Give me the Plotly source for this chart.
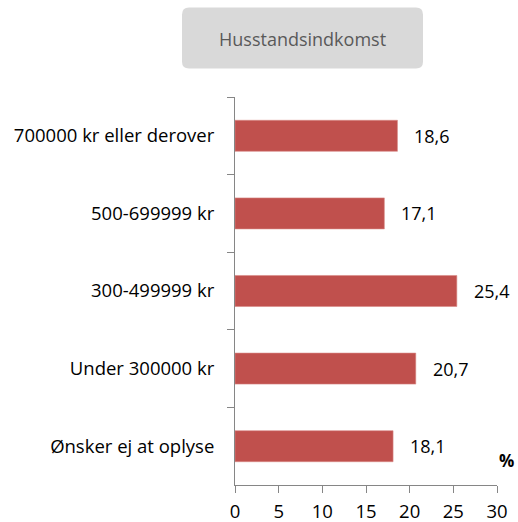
import plotly.graph_objects as go

# data, top to bottom as shown in the chart
categories = [
    "700000 kr eller derover",
    "500-699999 kr",
    "300-499999 kr",
    "Under 300000 kr",
    "Ønsker ej at oplyse",
]
values = [18.6, 17.1, 25.4, 20.7, 18.1]
x_ticks = [0, 5, 10, 15, 20, 25, 30]
title_text = "Husstandsindkomst"

BAR = "#C0504D"
AXIS = "#868686"
FONT = "Open Sans, sans-serif"

W, H = 518, 522
M = dict(l=235, r=21, t=97, b=37)
PW = W - M["l"] - M["r"]
PH = H - M["t"] - M["b"]


def px(x):
    # page pixel -> paper x
    return (x - M["l"]) / PW


def py(y):
    # page pixel -> paper y
    return (H - M["b"] - y) / PH


def rounded_rect(x0, y0, x1, y1, r):
    X0, X1 = px(x0), px(x1)
    Y0, Y1 = py(y0), py(y1)  # Y0 is top
    rx, ry = r / PW, r / PH
    return (
        f"M{X0 + rx},{Y0} L{X1 - rx},{Y0} Q{X1},{Y0} {X1},{Y0 - ry} "
        f"L{X1},{Y1 + ry} Q{X1},{Y1} {X1 - rx},{Y1} "
        f"L{X0 + rx},{Y1} Q{X0},{Y1} {X0},{Y1 + ry} "
        f"L{X0},{Y0 - ry} Q{X0},{Y0} {X0 + rx},{Y0} Z"
    )


fig = go.Figure()
fig.add_trace(go.Bar(
    x=values,
    y=categories,
    orientation="h",
    marker=dict(color=BAR, line=dict(color="#D88A87", width=0.6)),
    hoverinfo="x+y",
))

# value labels to the right of each bar
for v, c in zip(values, categories):
    fig.add_annotation(
        x=v, y=c, xref="x", yref="y",
        text=f"{v:.1f}".replace(".", ","),
        showarrow=False, xanchor="left", yanchor="middle", xshift=15,
        font=dict(size=18, color="#000000", family=FONT),
    )

fig.add_shape(
    type="path", xref="paper", yref="paper",
    path=rounded_rect(182, 7.5, 423, 68.5, 7),
    fillcolor="#D9D9D9", line=dict(width=0), layer="above",
)
fig.add_annotation(
    x=px(302.5), y=py(39), xref="paper", yref="paper",
    xanchor="center", yanchor="middle",
    text=title_text, showarrow=False,
    font=dict(size=18, color="#595959", family=FONT),
)
fig.add_annotation(
    x=px(506), y=py(460), xref="paper", yref="paper",
    xanchor="center", yanchor="middle",
    text="<b>%</b>", showarrow=False,
    font=dict(size=17, color="#000000", family=FONT),
)

fig.update_layout(
    width=W, height=H,
    margin=M,
    paper_bgcolor="white",
    plot_bgcolor="white",
    font=dict(family=FONT, color="#000000"),
    showlegend=False,
    bargap=0.6,
)
fig.update_xaxes(
    range=[0, 30],
    tickvals=x_ticks,
    automargin=False,
    showgrid=False, zeroline=False,
    showline=True, linecolor=AXIS, linewidth=1,
    ticks="outside", ticklen=7, tickcolor=AXIS,
    tickfont=dict(size=18.5),
    ticklabelstandoff=3,
)
fig.update_yaxes(
    categoryorder="array", categoryarray=categories,
    autorange="reversed",
    automargin=False,
    showgrid=False, zeroline=False,
    showline=True, linecolor=AXIS, linewidth=1,
    ticks="outside", ticklen=7, tickcolor=AXIS,
    tickson="boundaries",
    tickfont=dict(size=18.5),
    ticklabelstandoff=16,
)

# drop the browser's default body margin so the figure fills the window
fig.write_html(
    "out.html",
    config={"displayModeBar": False},
    post_script="document.body.style.margin='0';document.body.style.overflow='hidden';",
)
